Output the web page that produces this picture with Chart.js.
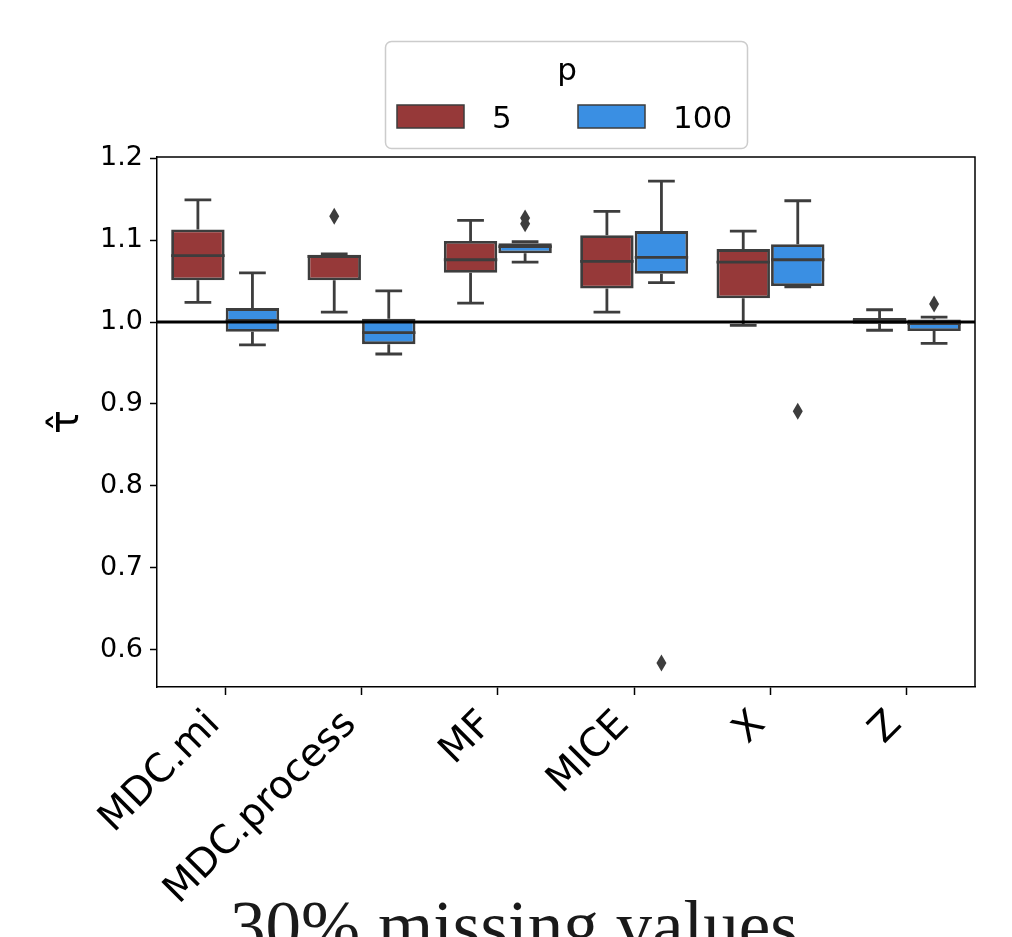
<!DOCTYPE html>
<html>
<head>
<meta charset="utf-8">
<script src="https://cdn.jsdelivr.net/npm/chart.js@4.4.1/dist/chart.umd.min.js"></script>
<style>
  html, body { margin: 0; padding: 0; background: #fff; overflow: hidden; }
  #wrap { width: 1012px; height: 937px; }
</style>
</head>
<body>
<div id="wrap"><canvas id="chart" width="1012" height="937"></canvas></div>
<script>
const categories = ['MDC.mi', 'MDC.process', 'MF', 'MICE', 'X', 'Z'];
const hueLevels = ['5', '100'];
const yTicks = [0.6, 0.7, 0.8, 0.9, 1.0, 1.1, 1.2];
const yMin = 0.5546;
const yMax = 1.2014;
const refLine = 1.0;

// p = 5
const loP5 = [1.024, 1.012, 1.023, 1.012, 0.996, 0.990];
const q1P5 = [1.051, 1.051, 1.060, 1.041, 1.029, 0.998];
const medP5 = [1.081, 1.080, 1.076, 1.074, 1.073, 1.002];
const q3P5 = [1.113, 1.082, 1.099, 1.106, 1.089, 1.005];
const hiP5 = [1.149, 1.083, 1.124, 1.135, 1.111, 1.015];
const outP5 = [[], [1.129], [], [], [], []];

// p = 100
const loP100 = [0.972, 0.961, 1.073, 1.048, 1.043, 0.974];
const q1P100 = [0.988, 0.973, 1.084, 1.059, 1.044, 0.989];
const medP100 = [1.002, 0.987, 1.092, 1.079, 1.076, 0.998];
const q3P100 = [1.017, 1.004, 1.096, 1.111, 1.095, 1.003];
const hiP100 = [1.060, 1.038, 1.098, 1.172, 1.148, 1.006];
const outP100 = [[], [], [1.127, 1.120], [0.584], [0.891], [1.022]];

const red = '#963939';
const blue = '#3a8fe3';
const edgeGray = '#3d3d3d';

const boxStats = [
    { lo: loP5, q1: q1P5, med: medP5, q3: q3P5, hi: hiP5, out: outP5 },
    { lo: loP100, q1: q1P100, med: medP100, q3: q3P100, hi: hiP100, out: outP100 },
];

const boxExtras = {
    id: 'boxExtras',
    beforeDatasetsDraw(chart) {
        const { ctx, scales: { y } } = chart;
        ctx.save();
        ctx.strokeStyle = edgeGray;
        ctx.lineWidth = 2.8;
        boxStats.forEach((s, d) => {
            chart.getDatasetMeta(d).data.forEach((bar, i) => {
                const x = bar.x;
                const cap = bar.width / 4;
                const yHi = y.getPixelForValue(s.hi[i]);
                const yLo = y.getPixelForValue(s.lo[i]);
                ctx.beginPath();
                ctx.moveTo(x, y.getPixelForValue(s.q3[i]));
                ctx.lineTo(x, yHi);
                ctx.moveTo(x - cap, yHi);
                ctx.lineTo(x + cap, yHi);
                ctx.moveTo(x, y.getPixelForValue(s.q1[i]));
                ctx.lineTo(x, yLo);
                ctx.moveTo(x - cap, yLo);
                ctx.lineTo(x + cap, yLo);
                ctx.stroke();
            });
        });
        ctx.restore();
    },
    afterDatasetsDraw(chart) {
        const { ctx, chartArea, scales: { y } } = chart;
        ctx.save();
        boxStats.forEach((s, d) => {
            chart.getDatasetMeta(d).data.forEach((bar, i) => {
                const x = bar.x;
                const half = bar.width / 2;
                const yMed = y.getPixelForValue(s.med[i]);
                ctx.strokeStyle = edgeGray;
                ctx.lineWidth = 2.8;
                ctx.beginPath();
                ctx.moveTo(x - half, yMed);
                ctx.lineTo(x + half, yMed);
                ctx.stroke();
                // outliers as thin diamonds
                ctx.fillStyle = edgeGray;
                s.out[i].forEach((v) => {
                    const yp = y.getPixelForValue(v);
                    ctx.beginPath();
                    ctx.moveTo(x, yp - 8.5);
                    ctx.lineTo(x + 5, yp);
                    ctx.lineTo(x, yp + 8.5);
                    ctx.lineTo(x - 5, yp);
                    ctx.closePath();
                    ctx.fill();
                });
            });
        });
        // reference line at 1.0
        const yRef = y.getPixelForValue(refLine);
        ctx.strokeStyle = '#000';
        ctx.lineWidth = 3;
        ctx.beginPath();
        ctx.moveTo(chartArea.left, yRef);
        ctx.lineTo(chartArea.right, yRef);
        ctx.stroke();
        // top and right spines
        ctx.lineWidth = 1.5;
        ctx.beginPath();
        ctx.moveTo(chartArea.left, chartArea.top);
        ctx.lineTo(chartArea.right, chartArea.top);
        ctx.lineTo(chartArea.right, chartArea.bottom);
        ctx.stroke();
        ctx.restore();
    },
    afterDraw(chart) {
        const { ctx } = chart;
        ctx.save();
        // legend
        const lx = 385.5, ly = 41.5, lw = 362, lh = 107, r = 6;
        ctx.beginPath();
        ctx.roundRect(lx, ly, lw, lh, r);
        ctx.fillStyle = 'rgba(255,255,255,0.8)';
        ctx.fill();
        ctx.strokeStyle = '#cccccc';
        ctx.lineWidth = 1.5;
        ctx.stroke();
        ctx.fillStyle = '#000';
        ctx.font = '31px "DejaVu Sans"';
        ctx.textAlign = 'center';
        ctx.textBaseline = 'alphabetic';
        ctx.fillText('p', 567, 80);
        const entries = [
            { label: hueLevels[0], color: red, px: 397, tx: 492 },
            { label: hueLevels[1], color: blue, px: 578, tx: 673 },
        ];
        entries.forEach((e) => {
            ctx.fillStyle = e.color;
            ctx.fillRect(e.px, 105, 67, 23);
            ctx.strokeStyle = edgeGray;
            ctx.lineWidth = 1.5;
            ctx.strokeRect(e.px, 105, 67, 23);
            ctx.fillStyle = '#000';
            ctx.textAlign = 'left';
            ctx.fillText(e.label, e.tx, 128);
        });
        // caption below the axis
        ctx.font = '71px "Liberation Serif"';
        ctx.textAlign = 'center';
        ctx.fillStyle = '#1a1a1a';
        ctx.fillText('30% missing values', 514, 950);
        ctx.restore();
    },
};

new Chart(document.getElementById('chart'), {
    type: 'bar',
    data: {
        labels: categories,
        datasets: [
            {
                label: hueLevels[0],
                data: categories.map((c, i) => [q1P5[i], q3P5[i]]),
                backgroundColor: red,
                borderColor: edgeGray,
                borderWidth: 2.8,
                borderSkipped: false,
                categoryPercentage: 0.8,
                barPercentage: 0.98,
            },
            {
                label: hueLevels[1],
                data: categories.map((c, i) => [q1P100[i], q3P100[i]]),
                backgroundColor: blue,
                borderColor: edgeGray,
                borderWidth: 2.8,
                borderSkipped: false,
                categoryPercentage: 0.8,
                barPercentage: 0.98,
            },
        ],
    },
    options: {
        responsive: false,
        animation: false,
        layout: { padding: { top: 157, right: 37, left: 0, bottom: 0 } },
        plugins: {
            legend: { display: false },
            tooltip: { enabled: false },
        },
        scales: {
            x: {
                offset: true,
                grid: {
                    display: true,
                    drawOnChartArea: false,
                    drawTicks: true,
                    tickLength: 8,
                    tickColor: '#000',
                    tickWidth: 1.5,
                    offset: false,
                },
                border: { display: true, color: '#000', width: 1.5 },
                ticks: {
                    minRotation: 45,
                    maxRotation: 45,
                    autoSkip: false,
                    color: '#000',
                    padding: 7,
                    labelOffset: -11,
                    font: { family: 'DejaVu Sans', size: 39 },
                },
                afterFit: (scale) => { scale.height = 250; },
            },
            y: {
                min: yMin,
                max: yMax,
                afterBuildTicks: (scale) => { scale.ticks = yTicks.map((v) => ({ value: v })); },
                grid: {
                    display: true,
                    drawOnChartArea: false,
                    drawTicks: true,
                    tickLength: 7,
                    tickColor: '#000',
                    tickWidth: 1.5,
                },
                border: { display: true, color: '#000', width: 1.5 },
                ticks: {
                    color: '#000',
                    padding: 7,
                    font: { family: 'DejaVu Sans', size: 27 },
                    callback: (v) => Number(v).toFixed(1),
                },
                title: {
                    display: true,
                    text: 'τ̂',
                    color: '#000',
                    font: { family: 'DejaVu Sans', size: 40 },
                    padding: { top: 44, bottom: 0 },
                },
                afterFit: (scale) => { scale.width = 157; },
            },
        },
    },
    plugins: [boxExtras],
});
</script>
</body>
</html>
